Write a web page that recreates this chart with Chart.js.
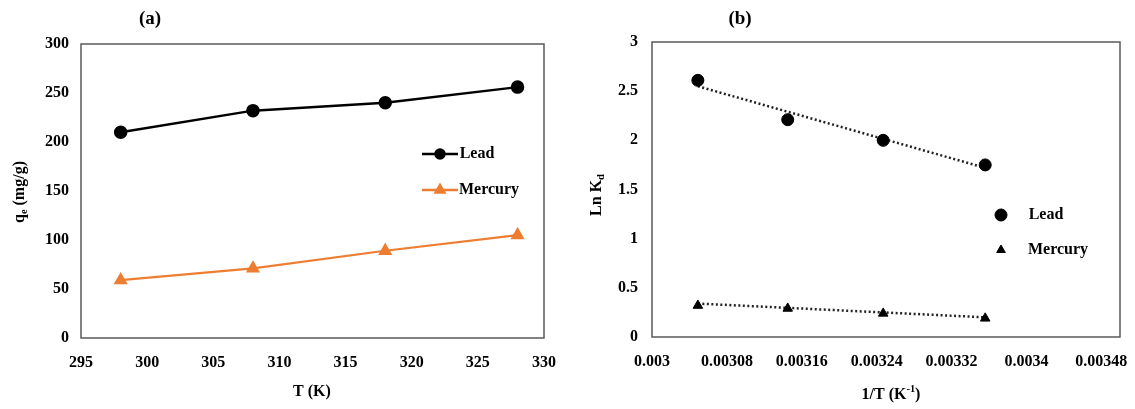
<!DOCTYPE html>
<html>
<head>
<meta charset="utf-8">
<script src="https://cdn.jsdelivr.net/npm/chart.js@4"></script>
<style>
  body { margin: 0; background: #fff; }
  .panel { position: absolute; top: 0; }
</style>
</head>
<body>
<div class="panel" style="left:0"><canvas id="chartA" width="567" height="409"></canvas></div>
<div class="panel" style="left:567px"><canvas id="chartB" width="568" height="409"></canvas></div>
<script>
// (a) uptake vs temperature
const tempK = [298, 308, 318, 328];
const leadQe = [210, 232, 240, 256];
const mercuryQe = [59, 71, 89, 105];
const xTicksA = [295, 300, 305, 310, 315, 320, 325, 330];
const yTicksA = [0, 50, 100, 150, 200, 250, 300];

// (b) van't Hoff plot
const invT = [0.003049, 0.003145, 0.003247, 0.003356];
const leadLnKd = [2.61, 2.21, 2.0, 1.75];
const mercuryLnKd = [0.32, 0.29, 0.24, 0.19];
// dotted fit lines, end values
const leadTrend = [2.55, 1.72];
const mercuryTrend = [0.34, 0.20];
const xTicksB = [0.003, 0.00308, 0.00316, 0.00324, 0.00332, 0.0034, 0.00348];
const yTicksB = [0, 0.5, 1, 1.5, 2, 2.5, 3];

const FONT = '"Liberation Serif", "Times New Roman", serif';
const ORANGE = '#ED7D31';

function pts(xs, ys) { return xs.map((x, i) => ({ x: x, y: ys[i] })); }

// draw text with sub/superscript pieces, centred on (x, y)
function richText(ctx, x, y, parts, size, rotate) {
  ctx.save();
  ctx.translate(x, y);
  if (rotate) ctx.rotate(-Math.PI / 2);
  ctx.fillStyle = '#000';
  ctx.textBaseline = 'middle';
  ctx.textAlign = 'left';
  let w = 0;
  parts.forEach(p => {
    const s = p.sub || p.sup ? size * 0.65 : size;
    ctx.font = 'bold ' + s + 'px ' + FONT;
    p.w = ctx.measureText(p.t).width;
    p.s = s;
    w += p.w;
  });
  let cx = -w / 2;
  parts.forEach(p => {
    ctx.font = 'bold ' + p.s + 'px ' + FONT;
    const dy = p.sub ? size * 0.3 : p.sup ? -size * 0.35 : 0;
    ctx.fillText(p.t, cx, dy);
    cx += p.w;
  });
  ctx.restore();
}

function decoPlugin(opts) {
  return {
    id: 'deco',
    afterDraw(chart) {
      const ctx = chart.ctx;
      const a = chart.chartArea;
      ctx.save();
      ctx.strokeStyle = '#595959';
      ctx.lineWidth = 1.5;
      ctx.strokeRect(a.left, a.top, a.right - a.left, a.bottom - a.top);
      ctx.restore();
      richText(ctx, opts.tag[0], opts.tag[1], [{ t: opts.tag[2] }], 19, false);
      richText(ctx, opts.yTitle[0], opts.yTitle[1], opts.yTitle[2], 16, true);
      richText(ctx, opts.xTitle[0], opts.xTitle[1], opts.xTitle[2], 16, false);
      opts.legend.forEach(l => {
        ctx.save();
        if (l.line) {
          ctx.strokeStyle = l.color;
          ctx.lineWidth = 2.5;
          ctx.beginPath();
          ctx.moveTo(l.x - 18, l.y);
          ctx.lineTo(l.x + 18, l.y);
          ctx.stroke();
        }
        ctx.fillStyle = l.color;
        ctx.strokeStyle = l.color;
        Chart.helpers.drawPoint(ctx, { pointStyle: l.style, radius: l.r, rotation: 0, borderWidth: 1 }, l.x, l.y);
        ctx.restore();
        richText(ctx, l.tx + l.tw / 2, l.y, [{ t: l.text }], 16, false);
      });
    }
  };
}

function tickFont() { return { family: FONT, size: 16, weight: 'bold' }; }

// fixed axis sizes so the plot box lands where the reference has it
function fixX(h) { return s => { s.height = h; s.paddingLeft = 0; s.paddingRight = 0; }; }
function fixY(w) { return s => { s.width = w; s.paddingTop = 0; s.paddingBottom = 0; }; }

// chart A
new Chart(document.getElementById('chartA'), {
  type: 'scatter',
  data: {
    datasets: [{
      label: 'Lead',
      data: pts(tempK, leadQe),
      showLine: true,
      borderColor: '#000',
      backgroundColor: '#000',
      borderWidth: 2.5,
      pointStyle: 'circle',
      pointRadius: 5.5
    }, {
      label: 'Mercury',
      data: pts(tempK, mercuryQe),
      showLine: true,
      borderColor: ORANGE,
      backgroundColor: ORANGE,
      borderWidth: 2.2,
      pointStyle: 'triangle',
      pointRadius: 6
    }]
  },
  options: {
    responsive: false,
    animation: false,
    layout: { padding: { top: 44, right: 23, left: 0, bottom: 0 } },
    plugins: { legend: { display: false }, tooltip: { enabled: false } },
    scales: {
      x: {
        min: 295, max: 330,
        afterBuildTicks: s => { s.ticks = xTicksA.map(v => ({ value: v })); },
        afterFit: fixX(71),
        grid: { display: false, drawTicks: false },
        border: { display: false },
        ticks: { font: tickFont(), color: '#000', padding: 15, maxRotation: 0 }
      },
      y: {
        min: 0, max: 300,
        afterBuildTicks: s => { s.ticks = yTicksA.map(v => ({ value: v })); },
        afterFit: fixY(81),
        grid: { display: false, drawTicks: false },
        border: { display: false },
        ticks: { font: tickFont(), color: '#000', padding: 12 }
      }
    }
  },
  plugins: [decoPlugin({
    tag: [150, 19, '(a)'],
    yTitle: [20, 192, [{ t: 'q' }, { t: 'e', sub: true }, { t: ' (mg/g)' }]],
    xTitle: [312, 392, [{ t: 'T (K)' }]],
    legend: [
      { line: true, color: '#000', style: 'circle', r: 4.5, x: 440, y: 154, text: 'Lead', tx: 460, tw: 34 },
      { line: true, color: ORANGE, style: 'triangle', r: 5, x: 440, y: 190, text: 'Mercury', tx: 460, tw: 58 }
    ]
  })]
});

// chart B
new Chart(document.getElementById('chartB'), {
  type: 'scatter',
  data: {
    datasets: [{
      label: 'Lead',
      data: pts(invT, leadLnKd),
      borderColor: '#000',
      backgroundColor: '#000',
      pointStyle: 'circle',
      pointRadius: 6
    }, {
      label: 'Mercury',
      data: pts(invT, mercuryLnKd),
      borderColor: '#000',
      backgroundColor: '#000',
      pointStyle: 'triangle',
      pointRadius: 5.5
    }, {
      label: 'Lead fit',
      data: pts([invT[0], invT[3]], leadTrend),
      showLine: true,
      borderColor: '#222',
      borderWidth: 2.5,
      borderDash: [2, 2.5],
      pointRadius: 0
    }, {
      label: 'Mercury fit',
      data: pts([invT[0], invT[3]], mercuryTrend),
      showLine: true,
      borderColor: '#222',
      borderWidth: 2.5,
      borderDash: [2, 2.5],
      pointRadius: 0
    }]
  },
  options: {
    responsive: false,
    animation: false,
    layout: { padding: { top: 42, right: 15, left: 0, bottom: 0 } },
    plugins: { legend: { display: false }, tooltip: { enabled: false } },
    scales: {
      x: {
        min: 0.003, max: 0.0035,
        afterBuildTicks: s => { s.ticks = xTicksB.map(v => ({ value: v })); },
        afterFit: fixX(72),
        grid: { display: false, drawTicks: false },
        border: { display: false },
        ticks: {
          font: tickFont(), color: '#000', padding: 15, maxRotation: 0,
          callback: v => String(Number(v.toFixed(5)))
        }
      },
      y: {
        min: 0, max: 3,
        afterBuildTicks: s => { s.ticks = yTicksB.map(v => ({ value: v })); },
        afterFit: fixY(85),
        grid: { display: false, drawTicks: false },
        border: { display: false },
        ticks: { font: tickFont(), color: '#000', padding: 14, callback: v => String(v) }
      }
    }
  },
  plugins: [decoPlugin({
    tag: [173, 19, '(b)'],
    yTitle: [30, 195, [{ t: 'Ln K' }, { t: 'd', sub: true }]],
    xTitle: [324, 395, [{ t: '1/T (K' }, { t: '-1', sup: true }, { t: ')' }]],
    legend: [
      { line: false, color: '#000', style: 'circle', r: 6, x: 434, y: 215, text: 'Lead', tx: 462, tw: 34 },
      { line: false, color: '#000', style: 'triangle', r: 5, x: 434, y: 250, text: 'Mercury', tx: 462, tw: 58 }
    ]
  })]
});
</script>
</body>
</html>
